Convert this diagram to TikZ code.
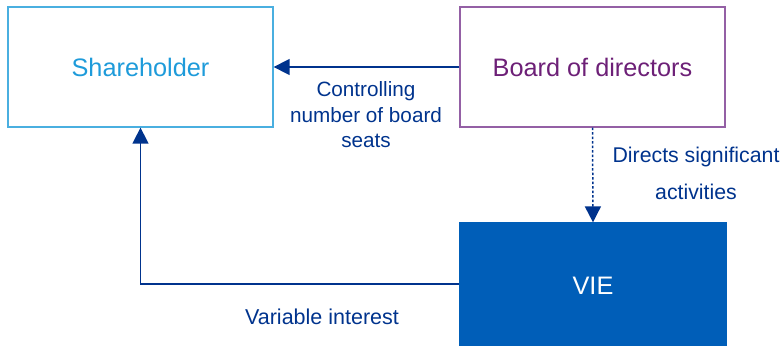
\documentclass[tikz,border=0pt]{standalone}
\usepackage{fontspec}
\setmainfont{Liberation Sans}
\usetikzlibrary{arrows.meta}
\definecolor{kdark}{HTML}{00338D}
\definecolor{kmed}{HTML}{005EB8}
\definecolor{klight}{HTML}{1E9BDA}
\definecolor{klightb}{HTML}{4AAFE0}
\definecolor{kpurple}{HTML}{6D2077}
\definecolor{kpurpleb}{HTML}{9460A5}
\tikzset{
  box/.style={rectangle, minimum width=265pt, minimum height=120pt, inner sep=0pt, line width=1.3pt, font=\fontsize{25.3}{30}\selectfont},
  conn/.style={draw=kdark, line width=1.5pt, -{Triangle[length=16pt,width=16pt]}},
  lbl/.style={inner sep=0pt, text=kdark, align=center}
}
\begin{document}
\begin{tikzpicture}[x=1pt,y=-1pt]
\useasboundingbox (0,0) rectangle (783,345);
\node[box, draw=klightb, text=klight] (sh) at (140.5,67) {Shareholder};
\node[box, draw=kpurpleb, text=kpurple] (bd) at (592.5,67) {Board of directors};
\node[box, fill=kmed, draw=kmed, text=white, minimum width=266pt, minimum height=126pt] (vie) at (593,286) {VIE};
\draw[conn] (bd.west) -- (sh.east);
\draw[conn, dash pattern=on 2.5pt off 2pt] (bd.south) -- (vie.north);
\draw[conn] (vie.west |- 0,284) -| (sh.south);
\node[lbl, font=\fontsize{20.7}{25.5}\selectfont] (l1) at (366,115) {Controlling\\number of board\\seats};
\node[lbl, font=\fontsize{21.3}{37}\selectfont] (l2) at (696,173) {Directs significant\\activities};
\node[lbl, font=\fontsize{21.5}{25}\selectfont] (l3) at (322,317) {Variable interest};
\end{tikzpicture}
\end{document}
